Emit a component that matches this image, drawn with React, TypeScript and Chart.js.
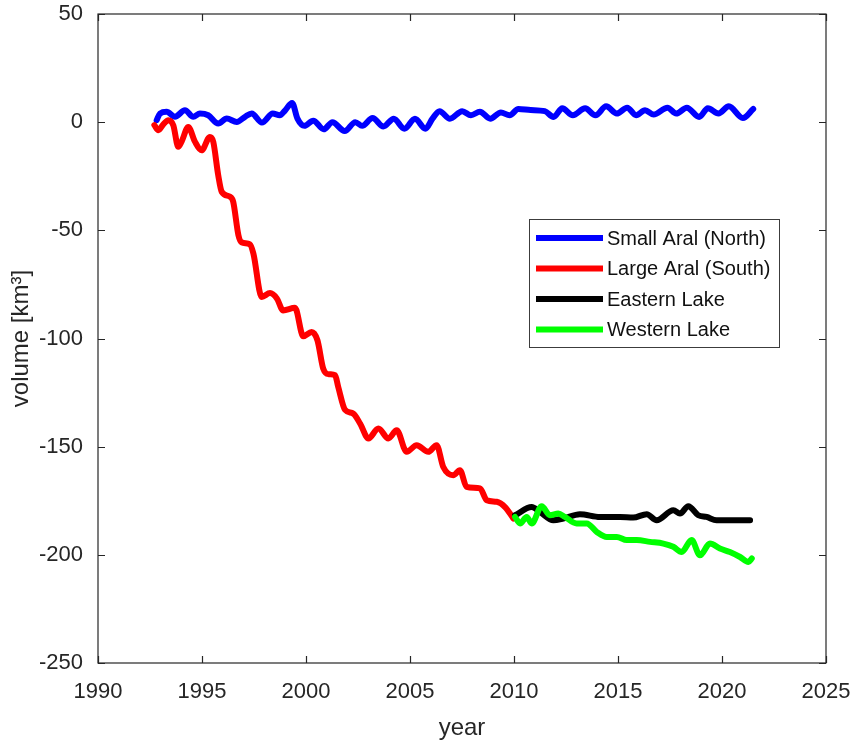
import React, { useEffect, useRef } from "react";
import { Chart, registerables } from "chart.js";

Chart.register(...registerables);

// ---- data ----
const northYears = [1992.82, 1992.98, 1993.3, 1993.7, 1994.18, 1994.58, 1994.9, 1995.3, 1995.78, 1996.19, 1996.67, 1997.07, 1997.39, 1997.88, 1998.4, 1998.74, 1999.0, 1999.33, 1999.59, 1999.92, 2000.35, 2000.85, 2001.27, 2001.86, 2002.37, 2002.7, 2003.2, 2003.72, 2004.22, 2004.73, 2005.24, 2005.74, 2006.08, 2006.42, 2006.92, 2007.51, 2007.93, 2008.36, 2008.86, 2009.37, 2009.79, 2010.21, 2010.8, 2011.48, 2011.9, 2012.32, 2012.83, 2013.42, 2013.92, 2014.43, 2014.94, 2015.44, 2015.87, 2016.3, 2016.71, 2017.38, 2017.8, 2018.31, 2018.9, 2019.32, 2019.83, 2020.33, 2021.0, 2021.5];
const northVolume = [0.9, 4, 4.8, 2.5, 5.5, 2.5, 4, 3.2, -0.6, 1.7, 0.1, 2.5, 4, -0.2, 4, 3.2, 5.5, 8.9, 1.6, -1.7, 0.7, -3.3, 0, -4.1, 0, -1.7, 1.9, -2, 1.6, -3, 1.6, -3, 1.6, 5.1, 1.6, 5.1, 3.2, 4.8, 1.6, 4.5, 3.2, 6.1, 5.6, 5.1, 2.4, 6.4, 3.2, 6.4, 3.2, 7.3, 4, 6.7, 3.2, 5.5, 3.5, 6.7, 4, 6.7, 2.4, 6.4, 4, 7.3, 1.9, 6.1];

const southYears = [1992.71, 1992.9, 1993.14, 1993.38, 1993.62, 1993.86, 1994.02, 1994.34, 1994.66, 1994.98, 1995.38, 1995.54, 1995.78, 1995.95, 1996.35, 1996.5, 1996.75, 1996.9, 1997.3, 1997.47, 1997.87, 1998.27, 1998.6, 1998.9, 1999.47, 1999.87, 2000.27, 2000.55, 2000.83, 2001.1, 2001.4, 2001.55, 2001.88, 2002.27, 2002.6, 2003.0, 2003.48, 2003.96, 2004.36, 2004.84, 2005.32, 2005.88, 2006.28, 2006.6, 2007.08, 2007.4, 2007.72, 2008.37, 2008.69, 2009.17, 2009.57, 2009.97];
const southVolume = [-1.4, -3.7, -1, 0.9, -1.4, -11.4, -9, -2.2, -9, -13, -6.8, -9, -24.5, -32.2, -34.5, -36.8, -52.2, -55.5, -56.5, -60.7, -80.8, -79, -81.5, -87, -85.8, -99, -97, -100.8, -114, -116.5, -117, -122.4, -133, -134.7, -139.3, -146.2, -141.6, -146.2, -142.4, -152.4, -149.3, -152.4, -149.3, -159.4, -163.2, -160.9, -168.6, -169.3, -174.8, -175.5, -177.9, -183.2];

const eastYears = [2010.05, 2010.85, 2011.25, 2011.89, 2012.37, 2013.17, 2014.13, 2015.1, 2015.73, 2016.38, 2016.86, 2017.66, 2017.98, 2018.38, 2018.86, 2019.26, 2019.74, 2020.54, 2021.35];
const eastVolume = [-181.7, -177.9, -180.2, -184, -183.2, -181.2, -182.5, -182.5, -182.8, -181.2, -184, -179.4, -180.9, -177.5, -181.7, -182.5, -184, -184, -184];

const westYears = [2010.05, 2010.29, 2010.61, 2010.85, 2011.33, 2011.73, 2012.13, 2012.45, 2013.01, 2013.5, 2013.98, 2014.46, 2014.94, 2015.42, 2015.9, 2016.54, 2017.18, 2017.66, 2018.06, 2018.54, 2018.94, 2019.42, 2019.9, 2020.38, 2020.87, 2021.27, 2021.43];
const westVolume = [-182.5, -185.5, -182.5, -185.5, -177.5, -181.7, -180.9, -182.5, -185.5, -185.5, -189.4, -191.7, -191.7, -193.2, -193.2, -194, -194.8, -196.3, -198.7, -193.2, -200.2, -194.8, -197.1, -198.7, -201, -203.3, -201.7];

const seriesNames = ["Small Aral (North)", "Large Aral (South)", "Eastern Lake", "Western Lake"];
const seriesColors = ["#0000ff", "#ff0000", "#000000", "#00ff00"];

const xMin = 1990;
const xMax = 2025;
const xStep = 5;
const yMin = -250;
const yMax = 50;
const yStep = 50;
const xTitle = "year";
const yTitle = "volume [km\u00B3]";

const toPoints = (xs: number[], ys: number[]) => xs.map((x, i) => ({ x, y: ys[i] }));

const AXIS_COLOR = "#262626";
const FONT = "'Liberation Sans', Arial, sans-serif";

const boxPlugin = {
  id: "matlabBox",
  afterDraw(chart: any) {
    const { ctx, chartArea, scales } = chart;
    const { left, right, top, bottom } = chartArea;
    ctx.save();
    ctx.strokeStyle = AXIS_COLOR;
    ctx.lineWidth = 1.2;
    ctx.strokeRect(left, top, right - left, bottom - top);
    const tl = 7;
    ctx.beginPath();
    scales.x.ticks.forEach((t: any) => {
      const px = Math.round(scales.x.getPixelForValue(t.value)) + 0.5;
      ctx.moveTo(px, bottom);
      ctx.lineTo(px, bottom - tl);
      ctx.moveTo(px, top);
      ctx.lineTo(px, top + tl);
    });
    scales.y.ticks.forEach((t: any) => {
      const py = Math.round(scales.y.getPixelForValue(t.value)) + 0.5;
      ctx.moveTo(left, py);
      ctx.lineTo(left + tl, py);
      ctx.moveTo(right, py);
      ctx.lineTo(right - tl, py);
    });
    ctx.stroke();

    // legend box (inside axes, MATLAB style)
    const lx = left + 431;
    const ly = top + 205;
    const lw = 250;
    const lh = 128;
    ctx.fillStyle = "#ffffff";
    ctx.fillRect(lx, ly, lw, lh);
    ctx.strokeStyle = "#3c3c3c";
    ctx.lineWidth = 1;
    ctx.strokeRect(lx + 0.5, ly + 0.5, lw, lh);
    ctx.font = `20px ${FONT}`;
    ctx.textBaseline = "middle";
    ctx.textAlign = "left";
    chart.data.datasets.forEach((ds: any, i: number) => {
      const ry = ly + 19 + i * 30.5;
      ctx.strokeStyle = ds.borderColor;
      ctx.lineWidth = 6;
      ctx.lineCap = "butt";
      ctx.beginPath();
      ctx.moveTo(lx + 7, ry);
      ctx.lineTo(lx + 74, ry);
      ctx.stroke();
      ctx.fillStyle = "#111111";
      ctx.fillText(ds.label, lx + 78, ry + 1);
    });
    ctx.restore();
  },
};

const zeroPad = (s: any) => {
  s.paddingTop = 0;
  s.paddingBottom = 0;
  s.paddingLeft = 0;
  s.paddingRight = 0;
};

export default function App() {
  const ref = useRef<HTMLCanvasElement | null>(null);
  useEffect(() => {
    if (!ref.current) return;
    const datasets = [
      { data: toPoints(northYears, northVolume), order: 3 },
      { data: toPoints(southYears, southVolume), order: 2 },
      { data: toPoints(eastYears, eastVolume), order: 1 },
      { data: toPoints(westYears, westVolume), order: 0 },
    ].map((d, i) => ({
      ...d,
      label: seriesNames[i],
      borderColor: seriesColors[i],
      backgroundColor: seriesColors[i],
      borderWidth: 6,
      pointRadius: 0,
      cubicInterpolationMode: "monotone" as const,
      fill: false,
      borderCapStyle: "round" as const,
      borderJoinStyle: "round" as const,
    }));
    const chart = new Chart(ref.current, {
      type: "line",
      data: { datasets },
      plugins: [boxPlugin],
      options: {
        responsive: false,
        animation: false,
        layout: { padding: { top: 14, right: 29, left: 0, bottom: 0 } },
        plugins: { legend: { display: false }, tooltip: { enabled: false } },
        scales: {
          x: {
            type: "linear",
            min: xMin,
            max: xMax,
            grid: { display: false },
            border: { display: false },
            ticks: {
              stepSize: xStep,
              color: AXIS_COLOR,
              font: { family: FONT, size: 22 },
              padding: 8,
              maxRotation: 0,
              callback: (v: any) => String(v),
            },
            title: {
              display: true,
              text: xTitle,
              color: AXIS_COLOR,
              font: { family: FONT, size: 24 },
              padding: { top: 0, bottom: 0 },
            },
            afterFit: (s: any) => {
              s.height = 80;
              zeroPad(s);
            },
          },
          y: {
            type: "linear",
            min: yMin,
            max: yMax,
            grid: { display: false },
            border: { display: false },
            ticks: {
              stepSize: yStep,
              color: AXIS_COLOR,
              font: { family: FONT, size: 22 },
              padding: 7,
              callback: (v: any) => String(v),
            },
            title: {
              display: true,
              text: yTitle,
              color: AXIS_COLOR,
              font: { family: FONT, size: 24 },
              padding: { top: 7, bottom: 0 },
            },
            afterFit: (s: any) => {
              s.width = 98;
              zeroPad(s);
            },
          },
        },
      },
    });
    return () => chart.destroy();
  }, []);
  return (
    <div style={{ position: "absolute", left: 0, top: 0, width: 855, height: 743, background: "#fff" }}>
      <canvas ref={ref} width={855} height={743} style={{ display: "block" }} />
    </div>
  );
}
